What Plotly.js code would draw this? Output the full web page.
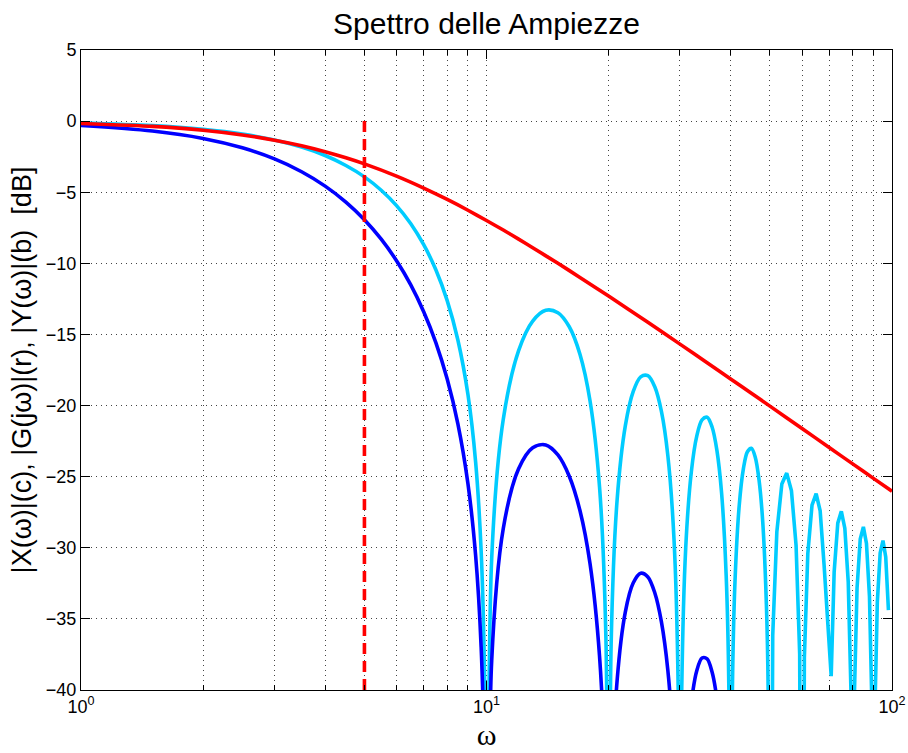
<!DOCTYPE html>
<html>
<head>
<meta charset="utf-8">
<script src="https://cdn.plot.ly/plotly-3.0.1.min.js"></script>
<style>html,body{margin:0;padding:0;background:#fff;}#chart{width:908px;height:753px;}</style>
</head>
<body>
<div id="chart"></div>
<script>
// |X(omega)| (cyan) – spectrum [dB]
const omegaX = [1,1.5,2,2.5,3,3.5,4,4.5,5,5.5,6,6.5,7,7.5,8,8.5,9,9.4,9.7,9.9,10,
  10.3,11,12,13,14,15,16,17,18,19,19.7,20,
  20.3,21,22,23,24,25,26,27,28,29,29.7,30,
  30.3,31,32,33,34,35,36,37,38,39,39.6,40,
  40.4,41,42,43,44,45,46,47,48,49,49.5,50,
  50.8,52,53.5,55,56.5,58,59.2,60,
  60.8,62,63.5,65,66.5,68,
  70.8,72,73.5,75,76.5,78,79.2,80,
  80.8,82,83.5,85,86.5,88,89.2,90,
  90.8,92,93.5,95,96.5,98];
const magX = [-0.14,-0.32,-0.58,-0.91,-1.33,-1.83,-2.42,-3.12,-3.92,-4.86,-5.94,-7.20,-8.69,-10.45,-12.62,-15.39,-19.23,-23.95,-30.21,-39.91,-80,
  -30.73,-20.97,-16.14,-14.06,-13.30,-13.47,-14.46,-16.39,-19.66,-25.72,-36.36,-80,
  -36.62,-26.59,-21.41,-19.02,-17.98,-17.90,-18.68,-20.41,-23.50,-29.39,-39.93,-80,
  -40.10,-29.97,-24.66,-22.15,-21.01,-20.82,-21.51,-23.15,-26.16,-31.96,-39.94,-80,
  -40.11,-32.40,-27.02,-24.45,-23.25,-23.01,-23.63,-25.23,-28.18,-33.95,-39.95,-80,
  -36.15,-28.88,-25.51,-24.75,-25.99,-29.83,-37.48,-80,
  -37.71,-30.41,-27.00,-26.20,-27.40,-31.21,
  -39.03,-31.71,-28.27,-27.44,-28.62,-32.40,-40.01,-80,
  -40.18,-32.84,-29.38,-28.53,-29.69,-33.45,-41.04,-80,
  -41.19,-33.84,-30.36,-29.50,-30.64,-34.38];

// |Y(omega)| (blue) [dB]
const omegaY = [1,1.5,2,2.5,3,3.5,4,4.5,5,5.5,6,6.5,7,7.5,8,8.5,9,9.4,9.7,9.9,10,
  10.3,11,12,13,14,15,16,17,18,19,19.7,20,
  20.3,21,22,23,24,25,26,27,28,29,29.7,30,
  30.3,31,32,33,34,35,36,37,38,39,39.6,40,
  40.4,41,42,43,44,45,46,47,48,49];
const magY = [-0.31,-0.70,-1.22,-1.88,-2.66,-3.56,-4.57,-5.69,-6.93,-8.30,-9.82,-11.50,-13.40,-15.57,-18.14,-21.29,-25.50,-30.52,-36.99,-46.83,-80,
  -37.92,-28.64,-24.44,-22.96,-22.77,-23.47,-24.97,-27.38,-31.11,-37.61,-48.54,-80,
  -49.05,-39.29,-34.50,-32.48,-31.79,-32.05,-33.16,-35.21,-38.60,-44.79,-55.52,-80,
  -55.87,-45.93,-40.89,-38.64,-37.75,-37.81,-38.74,-40.61,-43.85,-49.88,-57.98,-80,
  -58.30,-50.74,-45.57,-43.20,-42.19,-42.15,-42.96,-44.74,-47.88,-53.82];

// |G(j omega)| (red) [dB]
const omegaG = [1,1.5,2,2.5,3,3.5,4,4.5,5,6,7,8,9,10,11,12,13,15,17,20,25,30,35,40,45,50,60,70,80,90,100];
const magG = [-0.17,-0.37,-0.64,-0.97,-1.34,-1.73,-2.15,-2.58,-3.01,-3.87,-4.71,-5.51,-6.27,-6.99,-7.66,-8.30,-8.90,-10.00,-10.99,-12.30,-14.15,-15.68,-16.99,-18.13,-19.14,-20.04,-21.61,-22.95,-24.10,-25.12,-26.03];

// cutoff marker
const cutoffOmega = [5, 5];
const cutoffMag = [-40, 0];

const xTickVals = [1, 10, 100];
const xTickText = ['10<sup>0</sup>', '10<sup>1</sup>', '10<sup>2</sup>'];
const xMinorVals = [2,3,4,5,6,7,8,9,20,30,40,50,60,70,80,90];
const yTickVals = [-40,-35,-30,-25,-20,-15,-10,-5,0,5];

// smooth part (omega <= 50) and coarse part (omega > 50) of the cyan curve
const splitIdx = omegaX.indexOf(50) + 1;

const LW = 3.6;
const traces = [
  {x: omegaX.slice(0, splitIdx), y: magX.slice(0, splitIdx), type: 'scatter', mode: 'lines',
   line: {color: '#00CCFF', width: LW, shape: 'spline', smoothing: 0.9}, hoverinfo: 'skip'},
  {x: omegaX.slice(splitIdx - 1), y: magX.slice(splitIdx - 1), type: 'scatter', mode: 'lines',
   line: {color: '#00CCFF', width: LW}, hoverinfo: 'skip'},
  {x: omegaY, y: magY, type: 'scatter', mode: 'lines', line: {color: '#0000FF', width: LW, shape: 'spline', smoothing: 0.9}, hoverinfo: 'skip'},
  {x: omegaG, y: magG, type: 'scatter', mode: 'lines', line: {color: '#FF0000', width: LW, shape: 'spline', smoothing: 0.6}, hoverinfo: 'skip'},
  {x: cutoffOmega, y: cutoffMag, type: 'scatter', mode: 'lines', line: {color: '#FF0000', width: LW, dash: '11px,7px'}, hoverinfo: 'skip'}
];

const gridCol = '#444444';
const font = 'Liberation Sans, Arial, Helvetica, sans-serif';

const layout = {
  width: 908, height: 753,
  margin: {l: 81, r: 16, t: 50, b: 63},
  paper_bgcolor: '#ffffff', plot_bgcolor: '#ffffff',
  showlegend: false,
  font: {family: font, color: '#000000'},
  title: {
    text: 'Spettro delle Ampiezze',
    font: {family: font, size: 30, color: '#000000'},
    xref: 'paper', x: 0.5, xanchor: 'center',
    yref: 'container', y: 0.969, yanchor: 'middle'
  },
  xaxis: {
    type: 'log', range: [0, 2],
    tickmode: 'array', tickvals: xTickVals, ticktext: xTickText,
    ticks: 'inside', ticklen: 9, tickwidth: 1, tickcolor: '#000',
    showline: true, linecolor: '#000', linewidth: 1, mirror: 'ticks',
    showgrid: true, gridcolor: gridCol, gridwidth: 1, griddash: '1px,4px',
    zeroline: false,
    minor: {tickmode: 'array', tickvals: xMinorVals, ticks: 'inside', ticklen: 5, tickcolor: '#000',
            showgrid: true, gridcolor: gridCol, gridwidth: 1, griddash: '1px,4px'},
    tickfont: {family: font, size: 18, color: '#000'},
    title: {text: 'ω', font: {family: 'Liberation Serif, Times New Roman, serif', size: 30, color: '#000'}, standoff: 8}
  },
  yaxis: {
    range: [-40, 5],
    tickmode: 'array', tickvals: yTickVals,
    ticks: 'inside', ticklen: 9, tickwidth: 1, tickcolor: '#000',
    showline: true, linecolor: '#000', linewidth: 1, mirror: 'ticks',
    showgrid: true, gridcolor: gridCol, gridwidth: 1, griddash: '1px,4px',
    zeroline: false,
    tickfont: {family: font, size: 18, color: '#000'},
    title: {text: '|X(ω)|(c), |G(jω)|(r), |Y(ω)|(b) \u00A0[dB]', font: {family: font, size: 27, color: '#000'}, standoff: 6}
  }
};

Plotly.newPlot('chart', traces, layout, {staticPlot: true, displayModeBar: false});
</script>
</body>
</html>
